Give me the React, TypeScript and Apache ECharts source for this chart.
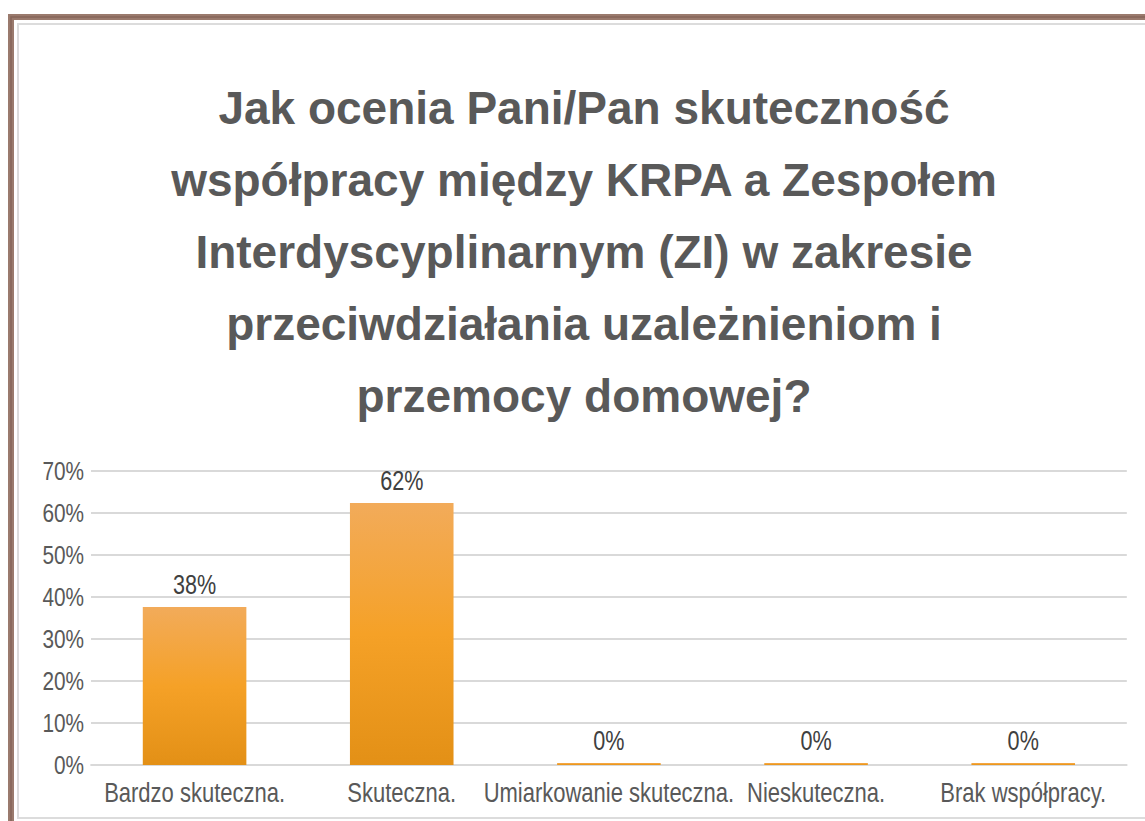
import React, { useEffect, useRef } from "react";
import * as echarts from "echarts";

const titleLines = [
  "Jak ocenia Pani/Pan skuteczność",
  "współpracy między KRPA a Zespołem",
  "Interdyscyplinarnym (ZI) w zakresie",
  "przeciwdziałania uzależnieniom i",
  "przemocy domowej?",
];
const categories = [
  "Bardzo skuteczna.",
  "Skuteczna.",
  "Umiarkowanie skuteczna.",
  "Nieskuteczna.",
  "Brak współpracy.",
];
const values = [37.6, 62.4, 0, 0, 0];
const yTicks = { min: 0, max: 70, interval: 10 };

const W = 1145;
const H = 821;
const SX = 0.8; // horizontal compression of the plot part (narrow label look)
const FONT = "'Liberation Sans', Arial, sans-serif";

export default function App() {
  const refA = useRef<HTMLDivElement>(null);
  const refB = useRef<HTMLDivElement>(null);
  useEffect(() => {
    if (!refA.current || !refB.current) return;
    const chartA = echarts.init(refA.current, null, { renderer: "svg" });
    chartA.setOption({
      animation: false,
      backgroundColor: "#ffffff",
      title: {
        text: titleLines.join("\n"),
        left: 584,
        top: 72,
        padding: 0,
        textAlign: "center",
        textStyle: {
          fontFamily: FONT,
          fontWeight: "bold",
          fontSize: 46,
          lineHeight: 72,
          color: "#595959",
        },
      },
      graphic: [
        {
          type: "rect",
          silent: true,
          shape: { x: 11, y: 17, width: 1300, height: 1000 },
          style: { fill: "none", stroke: "#9a7a6d", lineWidth: 6 },
        },
        {
          type: "rect",
          silent: true,
          shape: { x: 11, y: 17, width: 1300, height: 1000 },
          style: { fill: "none", stroke: "#86665a", lineWidth: 1.5 },
        },
        {
          type: "rect",
          silent: true,
          shape: { x: 18, y: 24, width: 1300, height: 794 },
          style: { fill: "none", stroke: "#dcdcdc", lineWidth: 2 },
        },
      ],
    });

    const chartB = echarts.init(refB.current, null, { renderer: "svg" });
    chartB.setOption({
      animation: false,
      backgroundColor: "transparent",
      grid: { left: 91 / SX, right: 18 / SX, top: 471, bottom: 56, containLabel: false },
      xAxis: {
        type: "category",
        data: categories,
        axisLine: { show: true, lineStyle: { color: "#d9d9d9", width: 2 } },
        axisTick: { show: false },
        axisLabel: {
          interval: 0,
          margin: 13,
          fontFamily: FONT,
          fontSize: 27.5,
          color: "#595959",
        },
      },
      yAxis: {
        type: "value",
        min: yTicks.min,
        max: yTicks.max,
        interval: yTicks.interval,
        axisLine: { show: false },
        axisTick: { show: false },
        splitLine: { lineStyle: { color: "#d9d9d9", width: 2 } },
        axisLabel: {
          formatter: "{value}%",
          margin: 7 / SX,
          fontFamily: FONT,
          fontSize: 26,
          color: "#595959",
        },
      },
      series: [
        {
          type: "bar",
          data: values,
          barWidth: "50%",
          barMinHeight: 2,
          itemStyle: {
            color: new echarts.graphic.LinearGradient(0, 0, 0, 1, [
              { offset: 0, color: "#f2ab5a" },
              { offset: 0.5, color: "#f5a127" },
              { offset: 1, color: "#e39016" },
            ]),
          },
          label: {
            show: true,
            position: "top",
            distance: 9,
            formatter: (p: any) => Math.round(p.value) + "%",
            fontFamily: FONT,
            fontSize: 27,
            color: "#404040",
          },
        },
      ],
    });
    return () => {
      chartA.dispose();
      chartB.dispose();
    };
  }, []);
  return (
    <div style={{ position: "absolute", left: 0, top: 0, width: W, height: H, overflow: "hidden" }}>
      <div ref={refA} style={{ position: "absolute", left: 0, top: 0, width: W, height: H }} />
      <div
        ref={refB}
        style={{
          position: "absolute",
          left: 0,
          top: 0,
          width: W / SX,
          height: H,
          transform: `scaleX(${SX})`,
          transformOrigin: "0 0",
        }}
      />
    </div>
  );
}
